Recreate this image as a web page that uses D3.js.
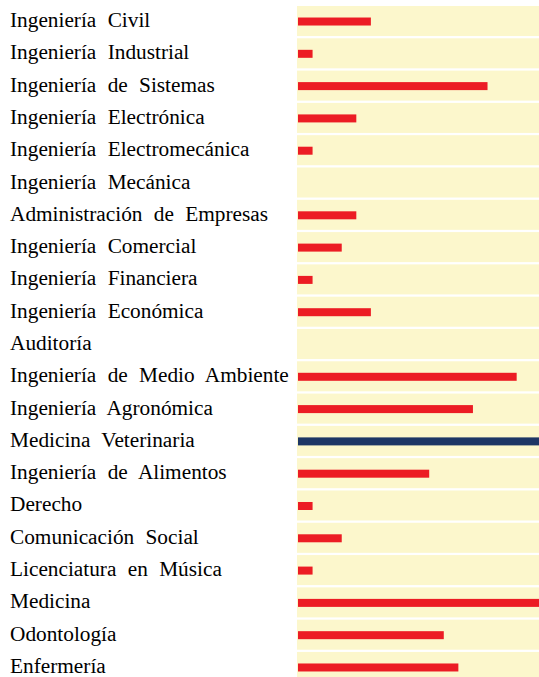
<!DOCTYPE html>
<html>
<head>
<meta charset="utf-8">
<script src="https://cdn.jsdelivr.net/npm/d3@7"></script>
<style>
  body { margin: 0; background: #fff; }
</style>
</head>
<body>
<div id="chart"></div>
<script>
    var carreras = ["Ingeniería Civil", "Ingeniería Industrial", "Ingeniería de Sistemas",
      "Ingeniería Electrónica", "Ingeniería Electromecánica", "Ingeniería Mecánica",
      "Administración de Empresas", "Ingeniería Comercial", "Ingeniería Financiera",
      "Ingeniería Económica", "Auditoría", "Ingeniería de Medio Ambiente",
      "Ingeniería Agronómica", "Medicina Veterinaria", "Ingeniería de Alimentos",
      "Derecho", "Comunicación Social", "Licenciatura en Música", "Medicina",
      "Odontología", "Enfermería"];

    var valores = [5, 1, 13, 4, 1, 0, 4, 3, 1, 5, 0, 15, 12, 17, 9, 1, 3, 1, 17, 10, 11];

    var destacada = "Medicina Veterinaria";

    var width = 539;
    var height = 677;

    var svg = d3.select('#chart').append("svg")
        .attr("width", width)
        .attr("height", height);

    var data = carreras.map(function(d, i) { return {name: d, value: valores[i]}; });

    var y = d3.scaleBand()
        .domain(carreras)
        .range([6, 682])
        .paddingInner(0.07)
        .paddingOuter(0);

    var x = d3.scaleLinear()
        .domain([0, 16.6])
        .range([297, 539]);

    svg.append("clipPath")
        .attr("id", "clip")
      .append("rect")
        .attr("x", 297)
        .attr("y", 0)
        .attr("width", width - 297)
        .attr("height", height);

    // fondo de cada fila
    svg.append("g")
      .selectAll("rect")
      .data(data)
      .enter().append("rect")
        .attr("x", x(0))
        .attr("y", function(d) { return y(d.name); })
        .attr("width", width - x(0))
        .attr("height", y.bandwidth())
        .attr("fill", "#fcf7cc");

    var barH = 8;

    svg.append("g")
        .attr("clip-path", "url(#clip)")
      .selectAll("rect")
      .data(data)
      .enter().append("rect")
        .attr("x", x(0) + 1)
        .attr("y", function(d) { return y(d.name) + y.bandwidth() / 2 - barH / 2 + 0.5; })
        .attr("width", function(d) { return d.value > 0 ? x(d.value) - x(0) : 0; })
        .attr("height", barH)
        .attr("fill", function(d) { return d.name === destacada ? "#1d3665" : "#ec1c24"; });

    svg.append("g")
        .attr("font-family", "'Liberation Serif', 'Times New Roman', serif")
        .attr("font-size", 21.3)
        .attr("fill", "#000")
      .selectAll("text")
      .data(data)
      .enter().append("text")
        .attr("x", 10)
        .attr("y", function(d) { return y(d.name) + y.bandwidth() / 2 + 6; })
        .attr("word-spacing", 6)
        .text(function(d) { return d.name; });
</script>
</body>
</html>
